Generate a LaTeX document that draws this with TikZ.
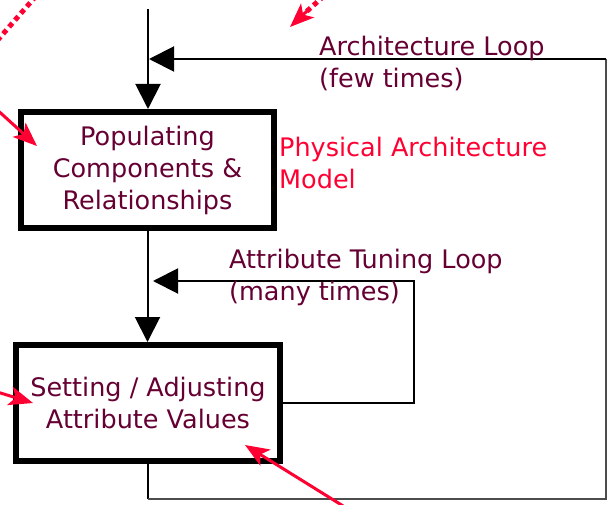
\documentclass[tikz,border=0pt]{standalone}
\usepackage{fontspec}
\setmainfont{DejaVu Sans}
\usetikzlibrary{arrows.meta}
\definecolor{plum}{RGB}{102,0,51}
\definecolor{hotred}{RGB}{255,0,51}
\newcommand\diagfont{\fontsize{25.5pt}{32pt}\selectfont}
\begin{document}
\begin{tikzpicture}[x=1pt,y=-1pt,
  stepbox/.style={draw, line width=6pt, fill=white, minimum height=116pt,
    align=center, text=plum, font=\diagfont},
  flow/.style={line width=2pt, -{Triangle[length=25pt,width=25pt]}},
  wire/.style={line width=2pt},
  edgewire/.style={line width=1.5pt, black!70},
  looplabel/.style={anchor=west, align=left, inner sep=0pt, text=plum, font=\diagfont},
  notelabel/.style={anchor=west, align=left, inner sep=0pt, text=hotred, font=\diagfont},
  pointer/.style={hotred, line width=3pt, -{Stealth[length=24pt,width=19pt,inset=6pt]}},
  dotpointer/.style={hotred, line width=5pt, dash pattern=on 5pt off 4pt},
]
\useasboundingbox (0,0) rectangle (607,505);

% process steps
\node[stepbox, minimum width=253pt] (populate) at (147.5,170)
  {Populating\\Components \&\\Relationships};
\node[stepbox, minimum width=264pt] (adjust) at (148,403)
  {Setting / Adjusting\\Attribute Values};

% main flow
\coordinate (entry) at (148,9);
\coordinate (archjoin) at (148,59);
\draw[flow] (entry) -- (entry |- populate.north);
\draw[flow] (populate.south) -- (populate.south |- adjust.north);

% architecture loop
\coordinate (archbl) at (148,499);
\coordinate (archbr) at (606,499);
\coordinate (archtr) at (606,59);
\draw[wire] (adjust.south) -- (archbl);
\draw[edgewire] (archbl) -- (archbr) -- (archtr);
\draw[wire] (archtr) -- ([xshift=24pt]archjoin);
\draw[flow] ([xshift=26pt]archjoin) -- ([xshift=1pt]archjoin);

% attribute tuning loop
\coordinate (tunebr) at (414,403);
\coordinate (tunetr) at (414,281);
\coordinate (tuneend) at (153,281);
\draw[wire] (adjust.east) -- (tunebr) -- (tunetr) -- ([xshift=20pt]tuneend);
\draw[flow] ([xshift=26pt]tuneend) -- (tuneend);

% labels
\node[looplabel] (archlbl) at (319,63) {Architecture Loop\\(few times)};
\node[notelabel] (physlbl) at (279,163) {Physical Architecture\\Model};
\node[looplabel] (tunelbl) at (229,277) {Attribute Tuning Loop\\(many times)};

% red pointers
\coordinate (pa) at (-6,107);
\coordinate (pb) at (-6,391);
\coordinate (pc) at (348,509);
\coordinate (pd) at (324,-4);
\coordinate (pe) at (36,-4);
\coordinate (pf) at (-4,42);
\draw[pointer] (pa) -- (37,146);
\draw[pointer] (pb) -- (33,403);
\draw[pointer] (pc) -- (245,445);
\draw[dotpointer] (pd) -- (306,12);
\draw[pointer] (307,11) -- (290,27);
\draw[dotpointer] (pe) -- (pf);
\end{tikzpicture}
\end{document}
